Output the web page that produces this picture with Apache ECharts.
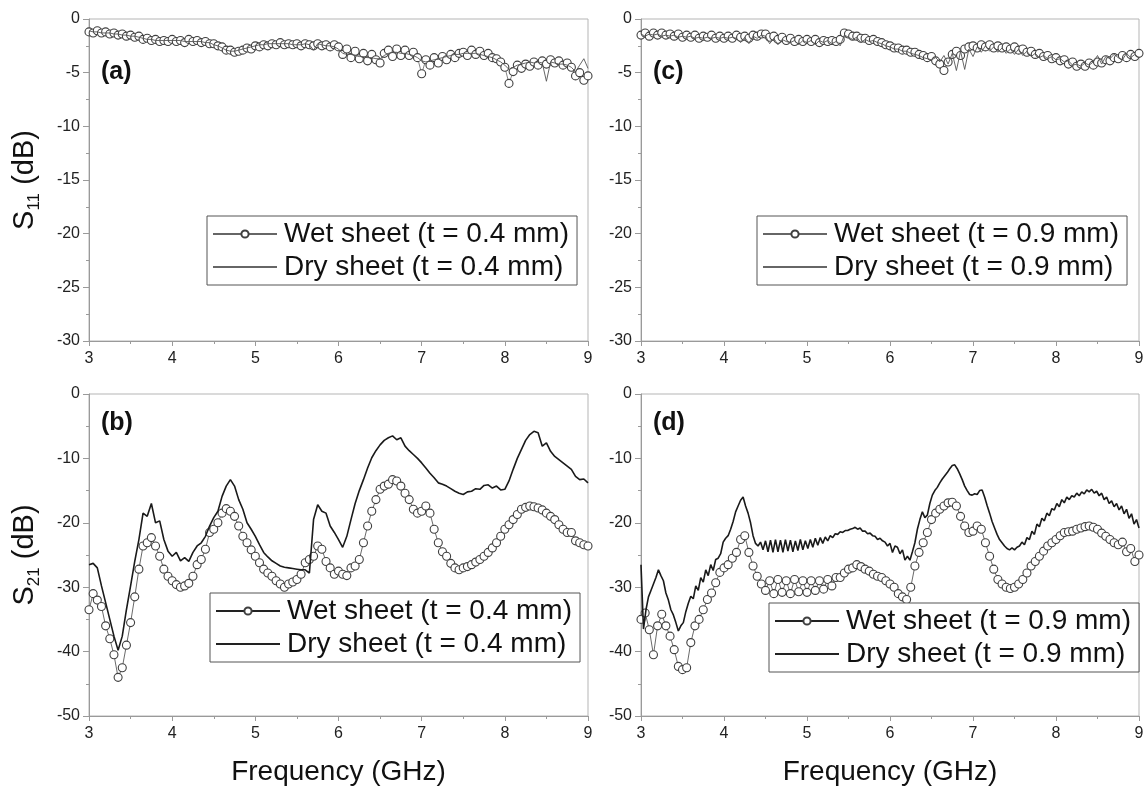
<!DOCTYPE html>
<html><head><meta charset="utf-8">
<script src="https://cdn.jsdelivr.net/npm/echarts@6/dist/echarts.min.js"></script>
<style>html,body{margin:0;padding:0;background:#fff}#c{width:1147px;height:787px}</style>
</head><body><div id="c"></div>
<script>
// ---------- data ----------
const FREQ_START = 3;
const STEP_MAIN = 0.05;   // sampling of most curves (GHz)
const STEP_DRY_D = 0.03;  // finer sampling for the rippled dry curve in (d)
const X_TICKS = [3, 4, 5, 6, 7, 8, 9];
const S11_TICKS = [0, -5, -10, -15, -20, -25, -30];
const S21_TICKS = [0, -10, -20, -30, -40, -50];
const PANEL_LABELS = ['(a)', '(b)', '(c)', '(d)'];
const NAME_WET_04 = 'Wet sheet (t = 0.4 mm)';
const NAME_DRY_04 = 'Dry sheet (t = 0.4 mm)';
const NAME_WET_09 = 'Wet sheet (t = 0.9 mm)';
const NAME_DRY_09 = 'Dry sheet (t = 0.9 mm)';

// (a) S11, t = 0.4 mm
const WET_A = [
 -1.2,-1.3,-1.1,-1.3,-1.2,-1.4,-1.3,-1.5,-1.4,-1.6,
 -1.5,-1.7,-1.6,-1.9,-1.8,-2.0,-1.9,-2.1,-2.0,-2.1,
 -1.9,-2.1,-2.0,-2.2,-1.9,-2.1,-2.0,-2.2,-2.1,-2.3,
 -2.3,-2.5,-2.6,-2.9,-2.9,-3.1,-3.0,-2.9,-2.7,-2.8,
 -2.5,-2.6,-2.4,-2.5,-2.3,-2.4,-2.2,-2.4,-2.3,-2.4,
 -2.3,-2.5,-2.3,-2.4,-2.5,-2.3,-2.5,-2.4,-2.6,-2.4,
 -2.6,-3.3,-2.8,-3.6,-3.0,-3.7,-3.2,-3.9,-3.3,-3.8,
 -4.1,-3.2,-2.9,-3.5,-2.8,-3.4,-2.9,-3.4,-3.1,-3.6,
 -5.1,-3.8,-4.3,-3.6,-4.1,-3.5,-3.8,-3.3,-3.6,-3.2,
 -3.1,-3.4,-2.9,-3.3,-3.0,-3.4,-3.2,-3.6,-3.7,-4.0,
 -4.5,-6.0,-4.9,-4.3,-4.6,-4.2,-4.4,-4.0,-4.3,-3.9,
 -4.2,-3.8,-4.1,-3.9,-4.3,-4.1,-4.5,-5.3,-5.0,-5.7,
 -5.3];
const DRY_A = [
 -1.1,-1.2,-1.2,-1.3,-1.3,-1.3,-1.4,-1.4,-1.5,-1.5,
 -1.6,-1.6,-1.7,-1.8,-1.9,-1.9,-2.0,-2.0,-2.0,-2.0,
 -2.0,-2.0,-2.0,-2.1,-2.1,-2.1,-2.1,-2.1,-2.2,-2.2,
 -2.4,-2.5,-2.7,-2.9,-3.0,-3.0,-2.9,-2.8,-2.7,-2.6,
 -2.5,-2.4,-2.4,-2.3,-2.3,-2.3,-2.3,-2.3,-2.3,-2.4,
 -2.4,-2.4,-2.3,-2.4,-2.9,-2.3,-2.4,-2.5,-2.5,-2.6,
 -2.8,-3.2,-3.3,-3.3,-3.4,-3.5,-3.5,-3.6,-3.6,-3.7,
 -3.7,-3.4,-3.2,-3.1,-3.1,-3.2,-3.2,-3.3,-3.4,-3.6,
 -3.9,-4.0,-3.9,-3.8,-3.7,-3.6,-3.5,-3.4,-3.3,-3.3,
 -3.2,-3.2,-3.2,-3.2,-3.3,-3.4,-3.5,-3.6,-3.8,-4.0,
 -4.3,-4.7,-4.5,-4.3,-4.2,-4.1,-4.0,-4.1,-4.0,-4.1,
 -5.8,-4.0,-4.1,-4.2,-4.2,-4.3,-4.5,-4.9,-4.3,-3.7,
 -4.6];

// (c) S11, t = 0.9 mm
const WET_C = [
 -1.5,-1.3,-1.6,-1.3,-1.5,-1.3,-1.5,-1.4,-1.6,-1.4,
 -1.7,-1.5,-1.7,-1.5,-1.8,-1.6,-1.7,-1.5,-1.8,-1.6,
 -1.8,-1.6,-1.8,-1.5,-1.7,-1.6,-1.8,-1.5,-1.6,-1.4,
 -1.4,-1.7,-1.6,-1.9,-1.7,-2.0,-1.8,-2.1,-1.9,-2.1,
 -1.9,-2.1,-1.9,-2.2,-2.0,-2.1,-2.0,-2.1,-1.9,-1.3,
 -1.4,-1.6,-1.6,-1.8,-1.8,-2.0,-1.9,-2.1,-2.2,-2.4,
 -2.5,-2.7,-2.7,-2.9,-2.9,-3.1,-3.1,-3.3,-3.4,-3.6,
 -3.5,-3.9,-4.2,-4.8,-4.0,-3.3,-3.0,-3.4,-2.8,-2.6,
 -2.5,-2.7,-2.4,-2.6,-2.4,-2.7,-2.5,-2.7,-2.6,-2.8,
 -2.6,-2.9,-2.8,-3.1,-3.0,-3.3,-3.2,-3.5,-3.4,-3.7,
 -3.6,-3.9,-3.8,-4.2,-4.0,-4.4,-4.2,-4.4,-4.1,-4.3,
 -4.0,-4.1,-3.8,-3.9,-3.6,-3.7,-3.4,-3.6,-3.3,-3.5,
 -3.2];
const DRY_C = [
 -1.4,-1.6,-1.4,-1.5,-1.4,-1.6,-1.5,-1.6,-1.5,-1.7,
 -1.6,-1.7,-1.6,-1.8,-1.7,-1.8,-1.7,-1.8,-1.7,-1.8,
 -1.7,-1.8,-1.7,-1.8,-2.2,-1.7,-2.3,-1.6,-1.8,-1.5,
 -1.6,-2.3,-1.8,-2.4,-1.9,-2.1,-2.2,-2.0,-2.4,-2.0,
 -2.2,-2.0,-2.4,-2.0,-2.2,-2.0,-2.3,-2.1,-2.5,-1.5,
 -1.7,-1.9,-1.7,-2.2,-1.9,-2.1,-2.0,-2.2,-2.3,-2.5,
 -2.6,-2.8,-2.8,-3.0,-3.0,-3.2,-3.3,-3.4,-3.6,-3.7,
 -3.8,-3.6,-4.0,-3.4,-4.2,-3.2,-4.8,-3.0,-4.7,-2.8,
 -3.5,-2.6,-3.1,-2.5,-3.0,-2.6,-3.1,-2.7,-3.2,-2.8,
 -3.3,-2.8,-3.4,-3.0,-3.5,-3.2,-3.6,-3.4,-3.7,-3.5,
 -3.8,-3.7,-4.0,-3.9,-4.3,-4.2,-4.4,-4.1,-4.3,-4.0,
 -3.4,-4.2,-3.5,-3.7,-3.3,-3.6,-3.8,-3.2,-3.6,-3.3,
 -3.6];

// (b) S21, t = 0.4 mm
const WET_B = [
 -33.5,-31.0,-32.0,-33.0,-36.0,-38.0,-40.5,-44.0,-42.5,-39.0,
 -35.5,-31.5,-27.2,-23.6,-23.1,-22.3,-23.6,-25.2,-27.2,-28.3,
 -29.0,-29.6,-30.0,-29.8,-29.4,-28.3,-26.5,-25.7,-24.1,-21.5,
 -21.0,-20.0,-18.5,-17.8,-18.2,-19.0,-20.5,-22.1,-23.1,-24.2,
 -25.2,-26.2,-27.2,-27.8,-28.3,-29.0,-29.5,-30.0,-29.5,-29.2,
 -28.8,-28.0,-26.2,-25.7,-25.2,-23.6,-24.1,-26.0,-27.0,-28.0,
 -27.5,-28.0,-28.2,-27.0,-26.7,-25.7,-23.1,-20.5,-18.2,-16.4,
 -14.8,-14.3,-14.0,-13.3,-13.5,-14.3,-15.4,-16.4,-17.9,-18.5,
 -18.2,-17.4,-18.5,-21.0,-23.1,-24.5,-25.2,-26.3,-27.0,-27.3,
 -27.0,-26.8,-26.5,-26.1,-25.7,-25.2,-24.6,-23.9,-23.1,-22.1,
 -21.0,-20.3,-19.5,-18.7,-17.9,-17.6,-17.4,-17.5,-17.7,-18.0,
 -18.5,-19.0,-19.5,-20.3,-21.0,-21.5,-21.5,-22.8,-23.1,-23.4,
 -23.6];
const DRY_B = [
 -26.5,-26.3,-27.0,-29.8,-32.4,-35.0,-37.6,-39.8,-37.6,-33.5,
 -29.8,-26.0,-22.6,-18.5,-19.0,-17.0,-20.0,-19.7,-22.6,-24.4,
 -25.2,-24.6,-25.9,-25.4,-26.0,-24.6,-23.6,-23.1,-22.1,-20.5,
 -19.2,-18.2,-15.9,-14.3,-13.3,-14.3,-16.4,-17.9,-20.0,-21.0,
 -22.1,-23.4,-24.6,-25.3,-25.9,-26.3,-26.7,-26.9,-27.0,-27.1,
 -27.2,-27.3,-27.3,-27.8,-19.5,-17.2,-18.2,-18.5,-20.5,-21.5,
 -22.6,-23.8,-22.1,-19.5,-17.0,-15.0,-13.3,-11.5,-9.9,-8.8,
 -7.9,-7.2,-6.8,-6.5,-7.1,-6.8,-8.1,-8.8,-9.4,-10.0,
 -10.7,-11.5,-12.3,-13.0,-13.8,-14.0,-14.3,-14.7,-15.1,-15.4,
 -15.6,-15.2,-15.1,-14.7,-14.8,-14.2,-14.1,-14.6,-14.3,-14.9,
 -14.8,-13.5,-11.7,-10.0,-8.6,-7.2,-6.3,-5.8,-6.0,-8.1,
 -7.6,-8.9,-9.7,-10.2,-10.7,-11.2,-11.7,-12.8,-13.3,-13.2,
 -13.8];

// (d) S21, t = 0.9 mm
const WET_D = [
 -35.0,-34.0,-36.6,-40.5,-36.0,-34.2,-36.0,-37.6,-39.7,-42.3,
 -42.8,-42.5,-38.6,-36.0,-35.0,-33.5,-31.9,-30.9,-29.3,-27.7,
 -27.0,-26.5,-25.5,-24.6,-22.6,-22.0,-24.6,-26.7,-28.3,-29.5,
 -30.5,-29.0,-31.0,-28.8,-30.8,-29.0,-31.0,-28.8,-30.7,-29.0,
 -30.8,-29.0,-30.5,-29.0,-30.3,-28.8,-29.8,-28.5,-28.5,-27.8,
 -27.2,-27.0,-26.5,-26.8,-27.2,-27.5,-28.0,-28.3,-28.5,-29.0,
 -29.5,-30.0,-31.0,-31.5,-31.9,-30.0,-26.7,-24.6,-23.1,-21.5,
 -19.5,-18.5,-17.9,-17.4,-16.9,-16.8,-17.4,-19.0,-20.5,-21.5,
 -21.3,-20.5,-21.0,-23.1,-25.2,-27.2,-28.8,-29.5,-30.0,-30.2,
 -30.0,-29.5,-28.8,-27.8,-26.7,-26.0,-25.2,-24.4,-23.6,-23.1,
 -22.6,-22.0,-21.5,-21.4,-21.3,-21.0,-20.8,-20.6,-20.5,-20.7,
 -21.0,-21.6,-22.1,-22.6,-23.1,-23.4,-23.0,-24.5,-24.0,-26.0,
 -25.0];
const DRY_D = [
 -26.5,-36.5,-33.5,-31.5,-30.5,-29.5,-28.5,-27.3,-28.2,-29.0,
 -30.9,-32.0,-33.5,-34.3,-35.5,-36.8,-36.0,-35.5,-33.8,-32.5,
 -31.4,-31.8,-29.8,-30.5,-28.5,-29.2,-27.3,-28.2,-26.5,-27.4,
 -25.7,-25.5,-24.8,-23.0,-22.4,-22.0,-21.0,-19.8,-18.3,-17.4,
 -16.5,-16.0,-17.4,-18.5,-20.0,-22.0,-23.2,-23.6,-23.0,-24.2,
 -22.8,-24.5,-22.7,-24.6,-22.6,-24.5,-22.7,-24.6,-22.6,-24.4,
 -22.7,-24.5,-22.8,-24.3,-22.6,-24.2,-22.8,-24.0,-22.6,-23.8,
 -22.4,-23.5,-22.3,-23.2,-22.2,-22.8,-22.0,-22.3,-21.7,-21.8,
 -21.4,-21.5,-21.2,-21.2,-21.0,-20.9,-20.7,-21.0,-20.8,-21.3,
 -21.3,-21.7,-21.6,-22.0,-22.1,-22.6,-22.4,-22.8,-23.0,-23.6,
 -23.2,-24.6,-23.6,-23.8,-24.8,-24.2,-25.8,-25.2,-25.8,-24.5,
 -23.1,-21.0,-19.5,-18.3,-19.2,-18.8,-17.0,-15.7,-15.0,-14.5,
 -13.8,-13.2,-12.7,-12.2,-11.6,-11.1,-11.0,-11.6,-12.4,-13.3,
 -14.3,-15.0,-15.6,-15.7,-15.5,-15.6,-15.0,-14.9,-16.0,-17.3,
 -18.5,-19.8,-20.8,-21.8,-22.6,-23.1,-23.6,-24.0,-24.2,-23.9,
 -24.2,-23.8,-23.6,-23.0,-23.4,-22.3,-22.6,-21.3,-21.8,-20.2,
 -20.6,-19.3,-19.7,-18.5,-18.9,-17.8,-18.0,-17.0,-17.5,-16.4,
 -16.9,-16.0,-16.4,-15.8,-16.0,-15.4,-15.8,-15.2,-15.5,-14.9,
 -15.2,-14.8,-15.4,-15.1,-15.8,-15.4,-16.4,-16.0,-17.0,-16.6,
 -17.5,-17.0,-18.0,-17.4,-18.6,-17.9,-19.3,-18.6,-20.2,-19.5,
 -20.8];

// ---------- build ----------
function freqGrid(step, n) { return Array.from({length: n}, (_, i) => +(FREQ_START + i * step).toFixed(3)); }
function pairs(step, vals) { const f = freqGrid(step, vals.length); return vals.map((v, i) => [f[i], v]); }

const FONT = 'Liberation Sans, Arial, Helvetica, sans-serif';
const AX_COLOR = '#9a9a9a';
const GRIDS = [
  {left: 89, top: 19, width: 499, height: 322},
  {left: 89, top: 394, width: 499, height: 322},
  {left: 641, top: 19, width: 498, height: 322},
  {left: 641, top: 394, width: 498, height: 322}
];

function xAxis(i, withName) {
  return {
    type: 'value', gridIndex: i, min: X_TICKS[0], max: X_TICKS[X_TICKS.length - 1], interval: 1,
    axisLine: {show: true, onZero: false, lineStyle: {color: AX_COLOR, width: 1}},
    axisTick: {show: true, inside: false, length: 5, lineStyle: {color: AX_COLOR}},
    minorTick: {show: true, splitNumber: 2, length: 3, lineStyle: {color: AX_COLOR}},
    splitLine: {show: false},
    axisLabel: {fontSize: 16, color: '#222', fontFamily: FONT, margin: 10, showMinLabel: true, showMaxLabel: true},
    name: withName ? 'Frequency (GHz)' : '', nameLocation: 'middle', nameGap: 42,
    nameTextStyle: {fontSize: 28, color: '#111', fontFamily: FONT}
  };
}
function yAxis(i, ticks, interval, subscript) {
  const ax = {
    type: 'value', gridIndex: i, min: ticks[ticks.length - 1], max: ticks[0], interval: interval,
    axisLine: {show: true, onZero: false, lineStyle: {color: AX_COLOR, width: 1}},
    axisTick: {show: true, inside: false, length: 6, lineStyle: {color: AX_COLOR}},
    minorTick: {show: true, splitNumber: 2, length: 3, lineStyle: {color: AX_COLOR}},
    splitLine: {show: false},
    axisLabel: {fontSize: 16, color: '#222', fontFamily: FONT, margin: 9, showMinLabel: true, showMaxLabel: true}
  };
  if (subscript) {
    ax.name = '{s|S}{sub|' + subscript + '}{s| (dB)}';
    ax.nameLocation = 'middle';
    ax.nameRotate = 90;
    ax.nameGap = 46;
    ax.nameTextStyle = {
      rich: {
        s: {fontSize: 29, fontFamily: FONT, color: '#111', lineHeight: 36},
        sub: {fontSize: 17, fontFamily: FONT, color: '#111', lineHeight: 18, verticalAlign: 'bottom'}
      }
    };
  }
  return ax;
}

function wetSeries(name, idx, vals, lineColor) {
  return {
    name: name, type: 'line', xAxisIndex: idx, yAxisIndex: idx, data: pairs(STEP_MAIN, vals),
    symbol: 'circle', symbolSize: 8, showSymbol: true, animation: false, z: 2,
    lineStyle: {color: lineColor, width: 0.8},
    itemStyle: {color: '#ffffff', borderColor: '#3f3f3f', borderWidth: 1.1}
  };
}
function drySeries(name, idx, step, vals, color, width) {
  return {
    name: name, type: 'line', xAxisIndex: idx, yAxisIndex: idx, data: pairs(step, vals),
    symbol: 'none', showSymbol: false, animation: false, z: 3,
    lineStyle: {color: color, width: width},
    itemStyle: {color: color}
  };
}

function legend(left, top, wet, dry, lineColor) {
  return {
    orient: 'vertical', left: left, top: top, align: 'left',
    data: [
      {name: wet, lineStyle: {color: lineColor}},
      {name: dry, lineStyle: {color: lineColor}, itemStyle: {opacity: 0}}
    ],
    itemWidth: 64, itemHeight: 9, itemGap: 5,
    padding: [4, 8, 4, 5],
    borderColor: '#555', borderWidth: 1, borderRadius: 0, backgroundColor: '#fff',
    textStyle: {fontSize: 28, color: '#111', fontFamily: FONT, padding: [0, 0, 0, 2]},
    selectedMode: false
  };
}

const LABEL_POS = [[101, 60], [101, 411], [653, 60], [653, 411]];

const option = {
  backgroundColor: '#fff',
  animation: false,
  grid: GRIDS.map(g => Object.assign({show: true, borderColor: '#b5b5b5', borderWidth: 1, backgroundColor: 'transparent'}, g)),
  xAxis: [xAxis(0, false), xAxis(1, true), xAxis(2, false), xAxis(3, true)],
  yAxis: [yAxis(0, S11_TICKS, 5, '11'), yAxis(1, S21_TICKS, 10, '21'), yAxis(2, S11_TICKS, 5, null), yAxis(3, S21_TICKS, 10, null)],
  legend: [
    legend(207, 216, NAME_WET_04, NAME_DRY_04, '#666'),
    legend(210, 593, NAME_WET_04, NAME_DRY_04, '#222'),
    legend(757, 216, NAME_WET_09, NAME_DRY_09, '#666'),
    legend(769, 603, NAME_WET_09, NAME_DRY_09, '#222')
  ],
  graphic: PANEL_LABELS.map((t, i) => ({
    type: 'text', left: LABEL_POS[i][0], top: LABEL_POS[i][1], z: 10,
    style: {text: t, font: 'bold 25px ' + FONT, fill: '#111'}
  })),
  series: [
    wetSeries(NAME_WET_04, 0, WET_A, '#666'),
    drySeries(NAME_DRY_04, 0, STEP_MAIN, DRY_A, '#555', 0.9),
    wetSeries(NAME_WET_04, 1, WET_B, '#444'),
    drySeries(NAME_DRY_04, 1, STEP_MAIN, DRY_B, '#1a1a1a', 1.6),
    wetSeries(NAME_WET_09, 2, WET_C, '#666'),
    drySeries(NAME_DRY_09, 2, STEP_MAIN, DRY_C, '#555', 0.9),
    wetSeries(NAME_WET_09, 3, WET_D, '#444'),
    drySeries(NAME_DRY_09, 3, STEP_DRY_D, DRY_D, '#1a1a1a', 1.6)
  ]
};

const chart = echarts.init(document.getElementById('c'), null, {renderer: 'canvas'});
chart.setOption(option);
</script>
</body></html>
